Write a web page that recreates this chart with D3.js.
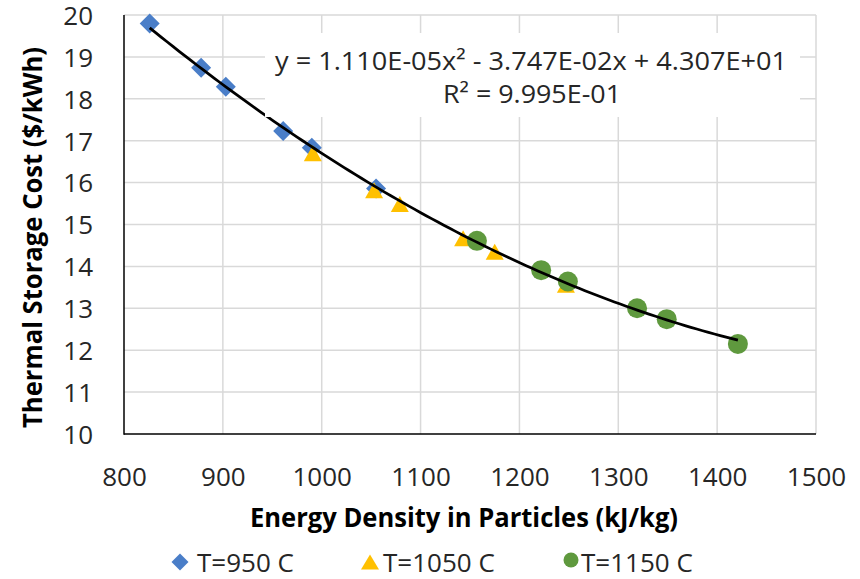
<!DOCTYPE html>
<html><head><meta charset="utf-8">
<script src="https://cdn.jsdelivr.net/npm/d3@7"></script>
<style>
html,body{margin:0;padding:0;background:#fff;}
svg{display:block;font-family:"Open Sans",sans-serif;}
</style></head>
<body><svg id="c" width="860" height="579"></svg>
<script>
// ---- data ----
const seriesNames = ["T=950 C", "T=1050 C", "T=1150 C"];
const blueX = [826, 878, 903, 961, 990, 1055];
const blueY = [19.80, 18.74, 18.29, 17.23, 16.83, 15.86];
const yellowX = [991, 1053, 1079, 1143, 1175, 1247];
const yellowY = [16.70, 15.82, 15.49, 14.67, 14.35, 13.56];
const greenX = [1157, 1222, 1249, 1319, 1349, 1421];
const greenY = [14.61, 13.91, 13.64, 13.00, 12.74, 12.15];
const xTicks = [800, 900, 1000, 1100, 1200, 1300, 1400, 1500];
const yTicks = [10, 11, 12, 13, 14, 15, 16, 17, 18, 19, 20];
const trendCoefs = [1.110e-5, -3.747e-2, 4.307e1]; // a, b, c of displayed fit
const eqLine1 = "y = 1.110E-05x\u00B2 - 3.747E-02x + 4.307E+01";
const eqLine2 = "R\u00B2 = 9.995E-01";
const xTitle = "Energy Density in Particles (kJ/kg)";
const yTitle = "Thermal Storage Cost ($/kWh)";

const colors = ["#4A7EC8", "#FFC000", "#5F993E"];

const svg = d3.select("#c");
svg.append("rect").attr("width", 860).attr("height", 579).attr("fill", "#fff");

const L = 124, R = 816, T = 15, B = 434;
const x = d3.scaleLinear().domain([800, 1500]).range([L, R]);
const y = d3.scaleLinear().domain([10, 20]).range([B, T]);

// gridlines
const grid = svg.append("g");
grid.selectAll("line.v").data(xTicks.slice(1)).join("line")
  .attr("x1", d => x(d)).attr("x2", d => x(d)).attr("y1", T).attr("y2", B)
  .attr("stroke", "#D9D9D9").attr("stroke-width", 1.5);
grid.selectAll("line.h").data(yTicks.slice(1)).join("line")
  .attr("y1", d => y(d)).attr("y2", d => y(d)).attr("x1", L).attr("x2", R)
  .attr("stroke", "#D9D9D9").attr("stroke-width", 1.5);

// axes labels
const yAx = svg.append("g").attr("transform", `translate(${L},0)`)
  .call(d3.axisLeft(y).tickValues(yTicks).tickSize(0).tickPadding(31).tickFormat(d3.format("d")));
yAx.select(".domain").remove();
yAx.selectAll("text").attr("font-size", 26).attr("fill", "#262626")
  .attr("font-family", "Open Sans").attr("dy", "0.36em");

const xAx = svg.append("g").attr("transform", `translate(0,${B})`)
  .call(d3.axisBottom(x).tickValues(xTicks).tickSize(0).tickFormat(d3.format("d")));
xAx.select(".domain").remove();
xAx.selectAll("text").attr("font-size", 26).attr("fill", "#262626")
  .attr("font-family", "Open Sans").attr("y", 43).attr("dy", "0.36em");

// axis lines
svg.append("line").attr("x1", L).attr("x2", L).attr("y1", T).attr("y2", B + 0.75)
  .attr("stroke", "#000").attr("stroke-width", 1.5);
svg.append("line").attr("x1", L).attr("x2", R).attr("y1", B).attr("y2", B)
  .attr("stroke", "#000").attr("stroke-width", 1.5);

// markers
const diamond = s => `M0,${-s}L${s},0L0,${s}L${-s},0Z`;
const tri = (w, h) => `M0,${-h/2}L${w/2},${h/2}L${-w/2},${h/2}Z`;

svg.append("g").selectAll("path").data(d3.zip(blueX, blueY)).join("path")
  .attr("transform", d => `translate(${x(d[0])},${y(d[1])})`)
  .attr("d", diamond(10)).attr("fill", colors[0]);
svg.append("g").selectAll("path").data(d3.zip(yellowX, yellowY)).join("path")
  .attr("transform", d => `translate(${x(d[0])},${y(d[1])})`)
  .attr("d", tri(18, 16)).attr("fill", colors[1]);
svg.append("g").selectAll("circle").data(d3.zip(greenX, greenY)).join("circle")
  .attr("cx", d => x(d[0])).attr("cy", d => y(d[1])).attr("r", 10).attr("fill", colors[2]);

// trendline
const allX = blueX.concat(yellowX, greenX);
const x0 = d3.min(allX), x1 = d3.max(allX);
const tx = d3.range(0, 101).map(i => x0 + (x1 - x0) * i / 100);
const f = v => trendCoefs[0] * v * v + trendCoefs[1] * v + trendCoefs[2];
svg.append("path").datum(tx)
  .attr("d", d3.line().x(d => x(d)).y(d => y(f(d))))
  .attr("fill", "none").attr("stroke", "#000").attr("stroke-width", 2.75);

// equation label
svg.append("rect").attr("x", 265).attr("y", 33).attr("width", 535).attr("height", 84).attr("fill", "#fff");
svg.append("text").attr("x", 531).attr("y", 70).attr("text-anchor", "middle")
  .attr("font-size", 25).attr("fill", "#262626").attr("textLength", 512).attr("lengthAdjust", "spacingAndGlyphs")
  .text(eqLine1);
svg.append("text").attr("x", 532).attr("y", 103).attr("text-anchor", "middle")
  .attr("font-size", 25).attr("fill", "#262626").attr("textLength", 178).attr("lengthAdjust", "spacingAndGlyphs")
  .text(eqLine2);

// axis titles
svg.append("text").attr("x", 464).attr("y", 527).attr("text-anchor", "middle")
  .attr("font-size", 26).attr("font-weight", "bold").attr("fill", "#000")
  .attr("textLength", 428).attr("lengthAdjust", "spacingAndGlyphs").text(xTitle);
svg.append("text").attr("transform", "translate(42,237.5) rotate(-90)").attr("text-anchor", "middle")
  .attr("font-size", 27).attr("font-weight", "bold").attr("fill", "#000")
  .attr("textLength", 381).attr("lengthAdjust", "spacingAndGlyphs").text(yTitle);

// legend
const leg = [
  {mx: 180, tx: 197},
  {mx: 370, tx: 383},
  {mx: 571, tx: 581}
];
const lg = svg.append("g");
leg.forEach((p, i) => {
  if (i === 0) lg.append("path").attr("transform", `translate(${p.mx},562)`).attr("d", diamond(8.5)).attr("fill", colors[0]);
  if (i === 1) lg.append("path").attr("transform", `translate(${p.mx},562)`).attr("d", tri(18, 15)).attr("fill", colors[1]);
  if (i === 2) lg.append("circle").attr("cx", p.mx).attr("cy", 560).attr("r", 7.5).attr("fill", colors[2]);
  lg.append("text").attr("x", p.tx).attr("y", 572).attr("font-size", 26).attr("fill", "#262626")
    .text(seriesNames[i]);
});
</script></body></html>
